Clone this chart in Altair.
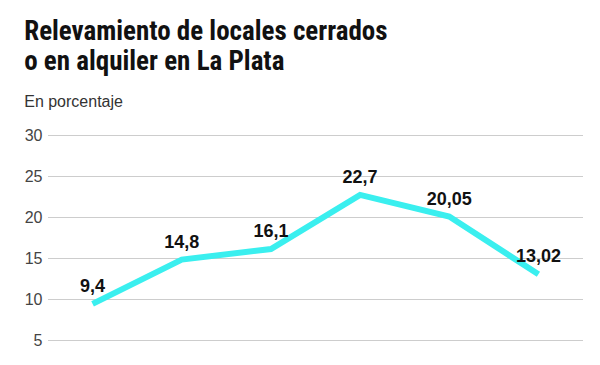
import altair as alt
import pandas as pd

periods = ["P1", "P2", "P3", "P4", "P5", "P6"]
values = [9.4, 14.8, 16.1, 22.7, 20.05, 13.02]
labels = ["9,4", "14,8", "16,1", "22,7", "20,05", "13,02"]
y_ticks = [5, 10, 15, 20, 25, 30]

df = pd.DataFrame({"periodo": periods, "valor": values, "etiqueta": labels})

x = alt.X("periodo:N", sort=periods, axis=None,
          scale=alt.Scale(type="point", padding=0.5))
y = alt.Y("valor:Q", title=None,
          scale=alt.Scale(domain=[5, 30], nice=False, zero=False),
          axis=alt.Axis(values=y_ticks, domain=False, ticks=False,
                        labelPadding=6, labelFontSize=16, labelColor="#444",
                        labelFont="Liberation Sans", gridColor="#9a9a9a",
                        gridDash=[1, 1], gridWidth=1))

line = alt.Chart(df).mark_line(color="#3aefef", strokeWidth=6, strokeJoin="miter").encode(x=x, y=y)
text = alt.Chart(df).mark_text(baseline="bottom", dy=-8, fontSize=18, fontWeight="bold",
                               font="Liberation Sans", color="#111").encode(
    x=x, y=y, text="etiqueta:N")

chart = (line + text).properties(
    width=535, height=205,
    padding={"left": 40, "top": 127, "right": 0, "bottom": 20},
    autosize=alt.AutoSizeParams(type="none"),
    title=alt.Title(
        text=["Relevamiento de locales cerrados", "o en alquiler en La Plata"],
        subtitle="En porcentaje",
        anchor="start", frame="bounds",
        font="'Roboto Condensed', 'DejaVu Sans Condensed', sans-serif",
        fontSize=27, fontWeight="bold",
        lineHeight=30, color="#111",
        subtitleFont="Liberation Sans", subtitleFontSize=16, subtitleColor="#333",
        subtitlePadding=18, offset=16,
    ),
).configure_view(stroke=None)

chart.save("out.html", embed_options={"renderer": "svg", "actions": False})
